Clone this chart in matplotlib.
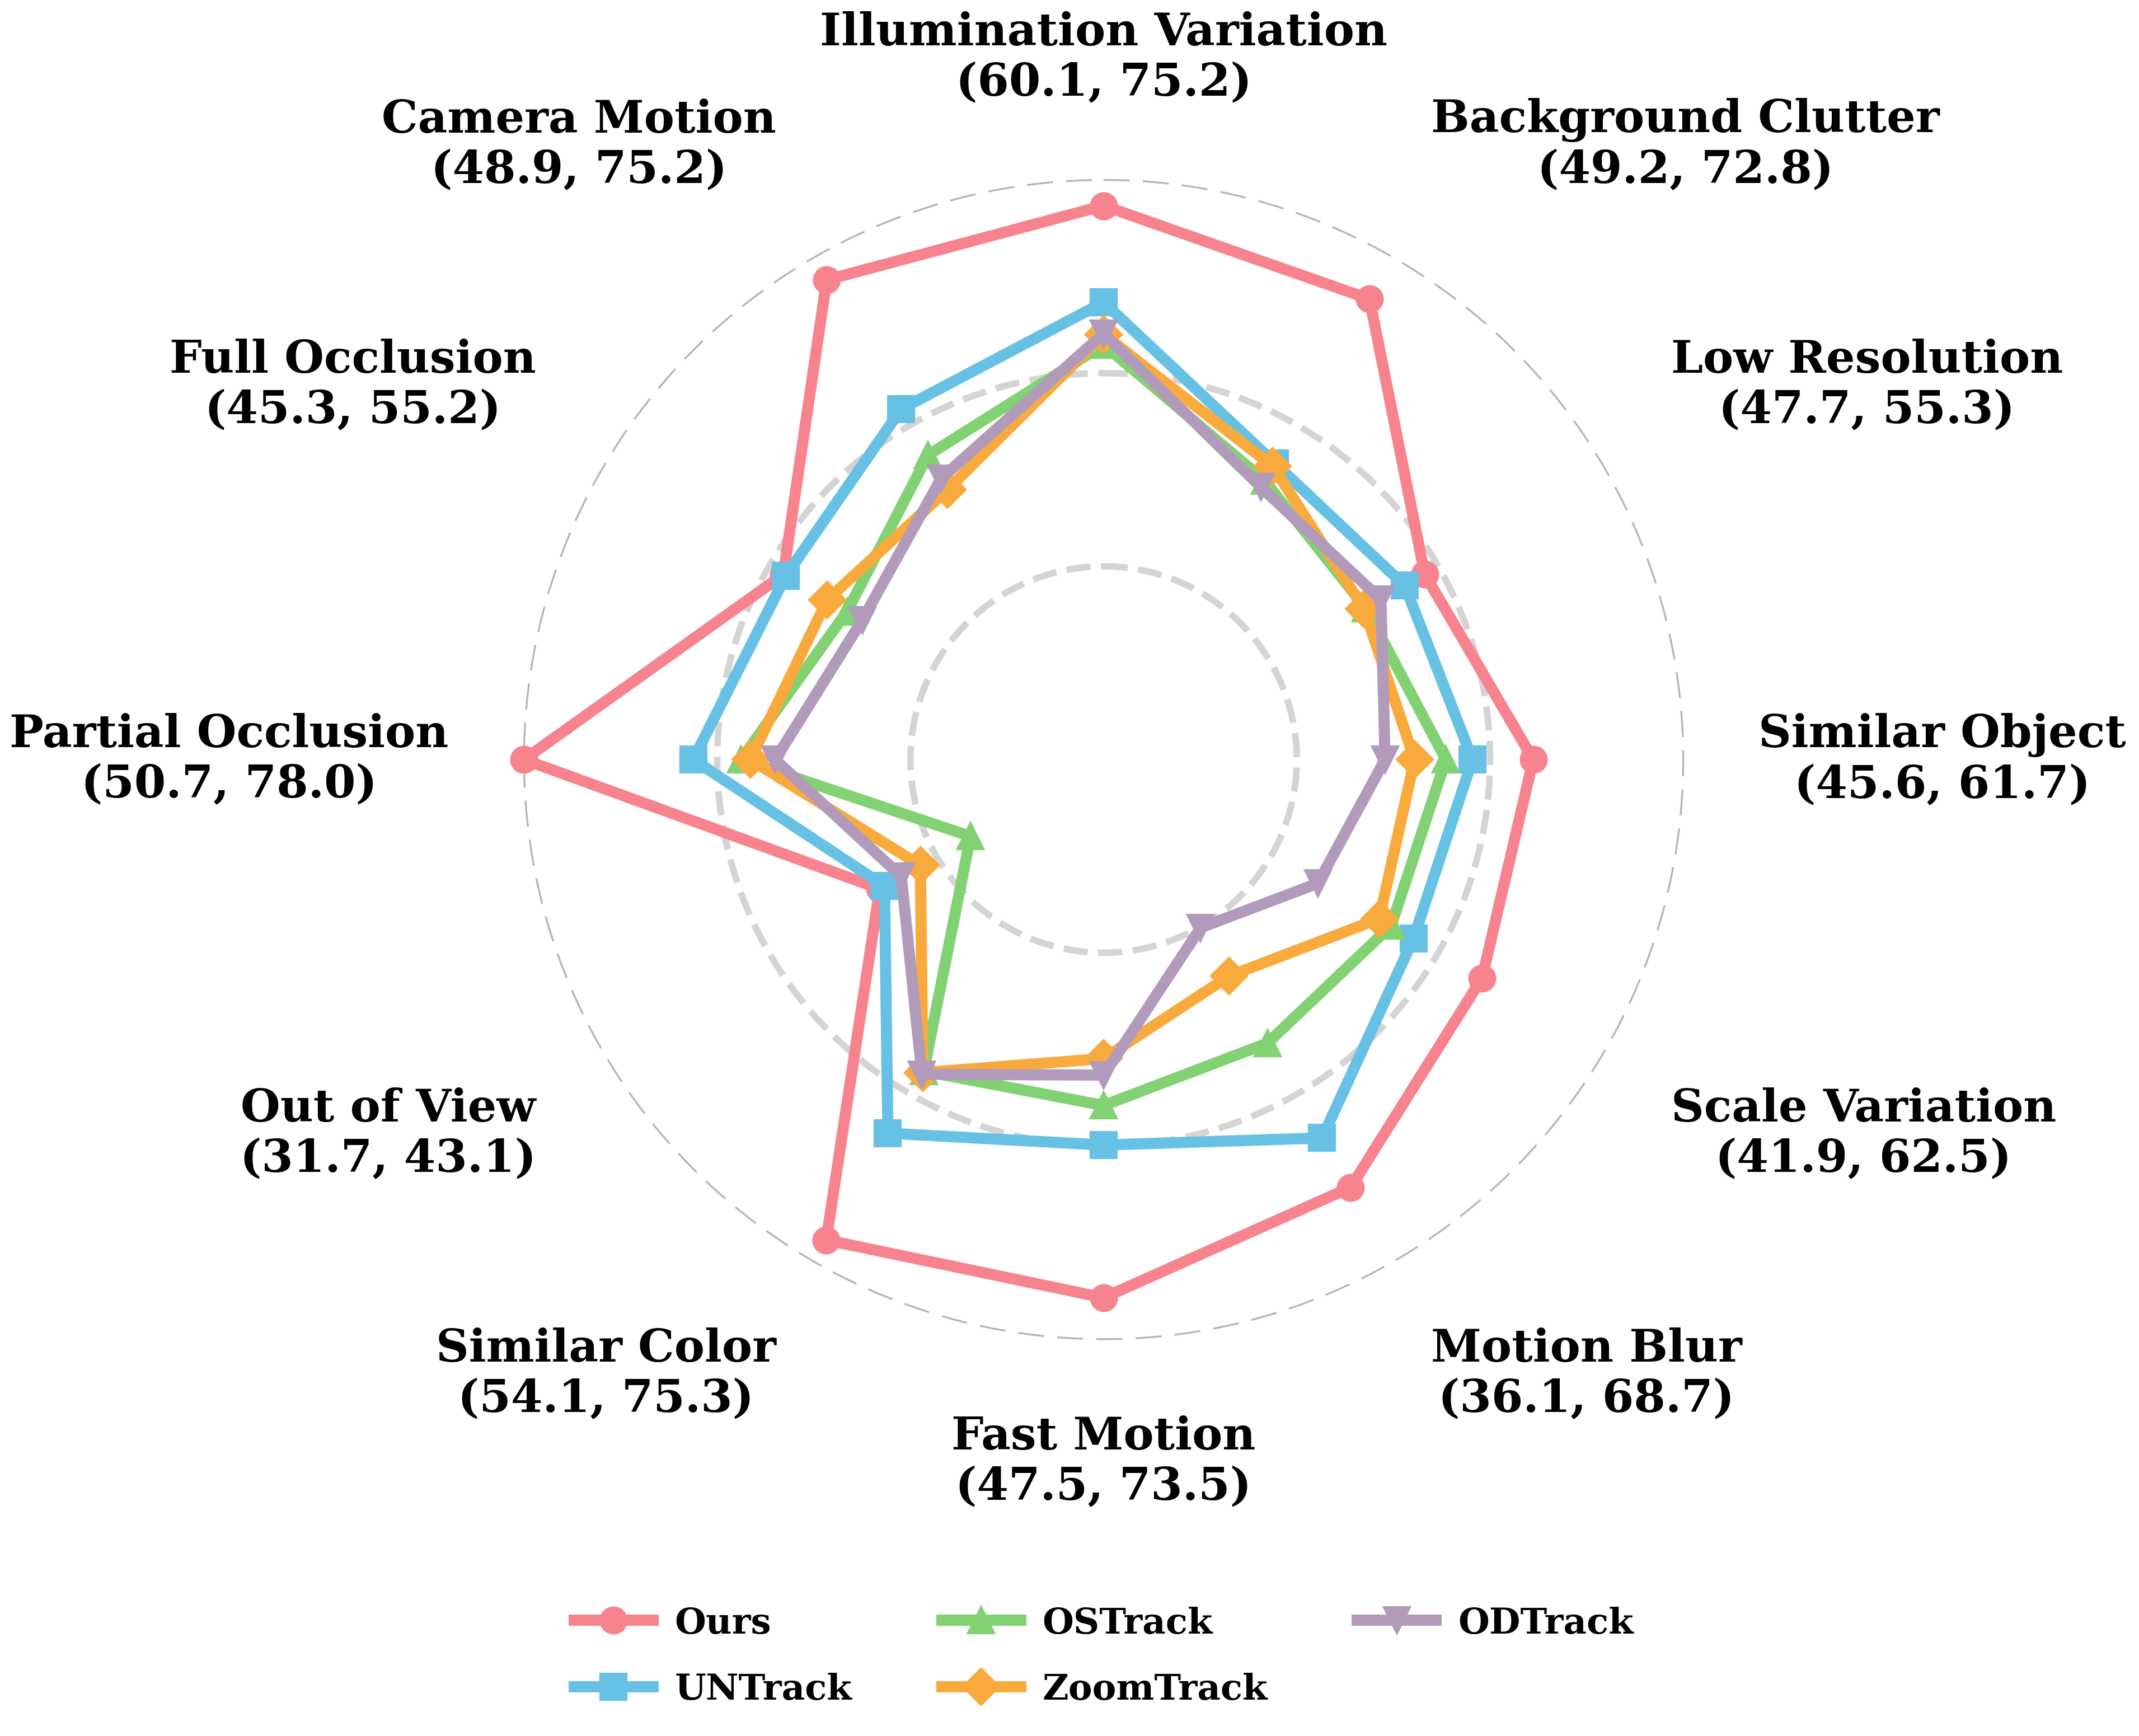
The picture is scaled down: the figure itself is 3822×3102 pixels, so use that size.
import matplotlib.pyplot as plt
import numpy as np

# attributs (sens horaire depuis le haut)
categories = ['Illumination Variation', 'Background Clutter', 'Low Resolution',
              'Similar Object', 'Scale Variation', 'Motion Blur', 'Fast Motion',
              'Similar Color', 'Out of View', 'Partial Occlusion', 'Full Occlusion',
              'Camera Motion']

methods = ['Ours', 'UNTrack', 'OSTrack', 'ZoomTrack', 'ODTrack']

ours = [75.2, 72.8, 55.3, 61.7, 62.5, 68.7, 73.5, 75.3, 43.1, 78.0, 55.2, 75.2]
untrack = [64.7, 52.2, 52.8, 55.1, 53.9, 62.5, 56.9, 61.9, 42.5, 59.6, 54.9, 59.0]
ostrack = [60.1, 50.0, 47.9, 52.2, 51.1, 50.6, 52.6, 54.1, 31.7, 54.4, 47.2, 53.2]
zoomtrack = [61.2, 51.8, 47.7, 48.8, 49.6, 42.2, 47.5, 54.3, 38.0, 53.4, 49.7, 48.9]
odtrack = [61.3, 49.2, 49.8, 45.6, 41.9, 36.1, 49.3, 54.5, 40.4, 50.7, 45.3, 50.3]

series = [ours, untrack, ostrack, zoomtrack, odtrack]
colors = ['#F7838F', '#66C1E4', '#82D173', '#F9AA3D', '#B29BBA']
markers = ['o', 's', '^', 'D', 'v']

r_min, r_max = 15, 78
label_r = 86.2

n = len(categories)
angles = np.arange(n) * 2 * np.pi / n
angles_closed = np.concatenate([angles, angles[:1]])

fig = plt.figure(figsize=(12.74, 10.3433), dpi=300)
ax = fig.add_axes([0.2097, 0.1851, 0.6125, 0.7544], projection='polar')
ax.set_theta_offset(np.pi / 2)
ax.set_theta_direction(-1)
ax.set_ylim(r_min, label_r)

# cercles de grille
t = np.linspace(0, 2 * np.pi, 500)
rings = np.linspace(r_min, r_max, 4)[1:]
for rv in rings[:-1]:
    ax.plot(t, np.full_like(t, rv), '--', lw=2.8, color='#d4d4d4', zorder=0.5)
ax.plot(t, np.full_like(t, rings[-1]), lw=0.8, color='#b5b5b5',
        dashes=(14, 7), zorder=0.5)

# courbes
for name, vals, c, m in zip(methods, series, colors, markers):
    v = np.concatenate([vals, vals[:1]])
    ax.plot(angles_closed, v, color=c, lw=4.8, marker=m, markersize=11,
            label=name, clip_on=False)

# etiquettes avec (min, max)
data = np.array(series)
for i, (ang, cat) in enumerate(zip(angles, categories)):
    s, c = np.sin(ang), np.cos(ang)
    ha = 'left' if s > 0.1 else ('right' if s < -0.1 else 'center')
    va = 'bottom' if c > 0.1 else ('top' if c < -0.1 else 'center')
    txt = f"{cat}\n({data[:, i].min():.1f}, {data[:, i].max():.1f})"
    ax.text(ang, label_r, txt, ha=ha, va=va, ma='center', fontsize=19.5,
            fontweight='bold', family='DejaVu Serif')

ax.set_xticks([])
ax.set_yticks([])
ax.grid(False)
ax.spines['polar'].set_visible(False)

fig.legend(loc='upper center', bbox_to_anchor=(0.516, 0.0935), ncol=3,
           frameon=False, handlelength=2.2, handletextpad=0.6,
           columnspacing=2.5, labelspacing=0.9,
           prop={'family': 'DejaVu Serif', 'weight': 'bold', 'size': 15.4})

fig.savefig('out.png', dpi=300, facecolor='white')
